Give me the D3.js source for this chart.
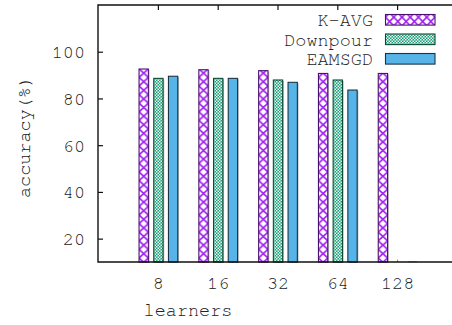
<!DOCTYPE html>
<html>
<head>
<meta charset="utf-8">
<script src="https://cdn.jsdelivr.net/npm/d3@7"></script>
<style>
  html, body { margin: 0; padding: 0; background: #fff; }
  svg { display: block; }
  text { font-family: "FreeMono", "Liberation Mono", monospace; fill: #222; }
</style>
</head>
<body>
<svg id="chart" width="452" height="325"></svg>
<script>
// learners (x categories)
const learners = ["8", "16", "32", "64", "128"];
// accuracy (%) per method
const kavg     = [92.6, 92.3, 91.9, 90.7, 90.7];
const downpour = [88.6, 88.6, 87.9, 87.9, 11.0];
const eamsgd   = [89.5, 88.6, 86.9, 83.6, 10.3];
const seriesNames = ["K-AVG", "Downpour", "EAMSGD"];
const yTicks = [20, 40, 60, 80, 100];

const FONT = '"FreeMono", "Liberation Mono", monospace';
const FS = "18.5px";

const svg = d3.select("#chart");
const W = 452, H = 325;
const margin = { left: 98, top: 5, bottom: 63 };
const plotH = H - margin.top - margin.bottom;

const defs = svg.append("defs");
let patId = 0;
// crosshatch anchored at a given x so each bar shows centred crosses
function crossPattern(x0, w) {
  const id = "pat-kavg-" + (patId++);
  const p = defs.append("pattern").attr("id", id)
    .attr("patternUnits", "userSpaceOnUse")
    .attr("x", x0).attr("y", 0).attr("width", w).attr("height", 8.6);
  p.append("rect").attr("width", w).attr("height", 8.6).attr("fill", "#fff");
  p.append("path").attr("d", `M0,0L${w},8.6M${w},0L0,8.6`)
    .attr("stroke", "#a020f0").attr("stroke-width", 1.6);
  return `url(#${id})`;
}
const pd = defs.append("pattern").attr("id", "pat-downpour")
  .attr("patternUnits", "userSpaceOnUse").attr("width", 3).attr("height", 3);
pd.append("rect").attr("width", 3).attr("height", 3).attr("fill", "#1aa07a");
pd.append("rect").attr("x", 0).attr("y", 0).attr("width", 1.5).attr("height", 1.5).attr("fill", "#e8f7f0");
pd.append("rect").attr("x", 1.5).attr("y", 1.5).attr("width", 1.5).attr("height", 1.5).attr("fill", "#e8f7f0");

const strokes = ["#4a1070", "#0b4a35", "#1d3444"];
function fillFor(si, bx, bw) {
  if (si === 0) return crossPattern(bx, bw);
  if (si === 1) return "url(#pat-downpour)";
  return "#56b4e9";
}

const x0 = d3.scaleBand().domain(learners)
  .range([margin.left + 30.5, margin.left + 30.5 + 59.8 * 5])
  .paddingInner(0).paddingOuter(0);
const x1 = d3.scaleBand().domain(seriesNames)
  .range([-19.35, 19.35]).paddingInner(0.367).paddingOuter(0);
const y = d3.scaleLinear().domain([10, 120]).range([margin.top + plotH, margin.top]);

const series = [kavg, downpour, eamsgd];
const bars = [];
series.forEach((vals, si) => {
  vals.forEach((v, ci) => bars.push({ si, ci, v, cat: learners[ci], name: seriesNames[si] }));
});

const g = svg.append("g");
bars.forEach(b => {
  const cx = x0(b.cat) + x0.bandwidth() / 2;
  const bx = cx + x1(b.name);
  const bw = x1.bandwidth();
  const top = y(b.v), base = y(10);
  if (b.v < 12) {
    // collapsed bars near the axis floor
    if (b.si === 1) {
      g.append("line").attr("x1", bx + bw / 2).attr("x2", bx + bw / 2)
        .attr("y1", top).attr("y2", base).attr("stroke", "#888").attr("stroke-width", 1);
    } else {
      g.append("rect").attr("x", bx).attr("y", top).attr("width", bw)
        .attr("height", Math.max(1, base - top)).attr("fill", "#999");
    }
    return;
  }
  // soft shadow to the right
  g.append("rect").attr("x", bx + 1.2).attr("y", top + 0.8)
    .attr("width", bw).attr("height", base - top)
    .attr("fill", "#b5b5b5");
  g.append("rect").attr("x", bx).attr("y", top)
    .attr("width", bw).attr("height", base - top)
    .attr("fill", fillFor(b.si, bx, bw))
    .attr("stroke", strokes[b.si]).attr("stroke-width", 1.1);
});

// frame (left, top, bottom)
const frame = svg.append("g").attr("stroke", "#111").attr("stroke-width", 1.4).attr("fill", "none");
frame.append("path").attr("d",
  `M${W + 2},${margin.top}H${margin.left}V${margin.top + plotH}H${W + 2}`);

// y axis
const yAxis = d3.axisLeft(y).tickValues(yTicks).tickSize(-5).tickPadding(13);
const ya = svg.append("g").attr("transform", `translate(${margin.left},0)`).call(yAxis);
ya.select(".domain").remove();
ya.selectAll(".tick line").attr("stroke", "#111").attr("stroke-width", 1.2);
ya.selectAll("text").style("font-size", FS).style("font-family", FONT).attr("fill", "#222");

// x axis (labels at bottom, ticks mirrored at top)
const xTop = d3.axisTop(x0).tickSize(-5).tickFormat("");
const xt = svg.append("g").attr("transform", `translate(0,${margin.top})`).call(xTop);
xt.select(".domain").remove();
xt.selectAll(".tick line").attr("stroke", "#111").attr("stroke-width", 1.2);

const xBottom = d3.axisBottom(x0).tickSize(0).tickPadding(14);
const xb = svg.append("g").attr("transform", `translate(0,${margin.top + plotH})`).call(xBottom);
xb.select(".domain").remove();
xb.selectAll("text").style("font-size", FS).style("font-family", FONT).attr("fill", "#222");

// axis titles
svg.append("text").attr("x", 188).attr("y", 316)
  .attr("text-anchor", "middle").style("font-size", FS).text("learners");
svg.append("text").attr("transform", "translate(30,137) rotate(-90)")
  .attr("text-anchor", "middle").style("font-size", FS).text("accuracy(%)");

// legend
const legend = svg.append("g");
seriesNames.forEach((name, i) => {
  const cy = 19.8 + i * 19.5;
  legend.append("text").attr("x", 373).attr("y", cy).attr("dy", "0.35em")
    .attr("text-anchor", "end").style("font-size", FS).text(name);
  const lx = 385.5, lw = 49.5;
  legend.append("rect").attr("x", lx).attr("y", cy - 5.3)
    .attr("width", lw).attr("height", 10.6)
    .attr("fill", i === 0 ? crossPattern(lx, 8.25) : fillFor(i, lx, lw))
    .attr("stroke", strokes[i]).attr("stroke-width", 1.1);
});
</script>
</body>
</html>
